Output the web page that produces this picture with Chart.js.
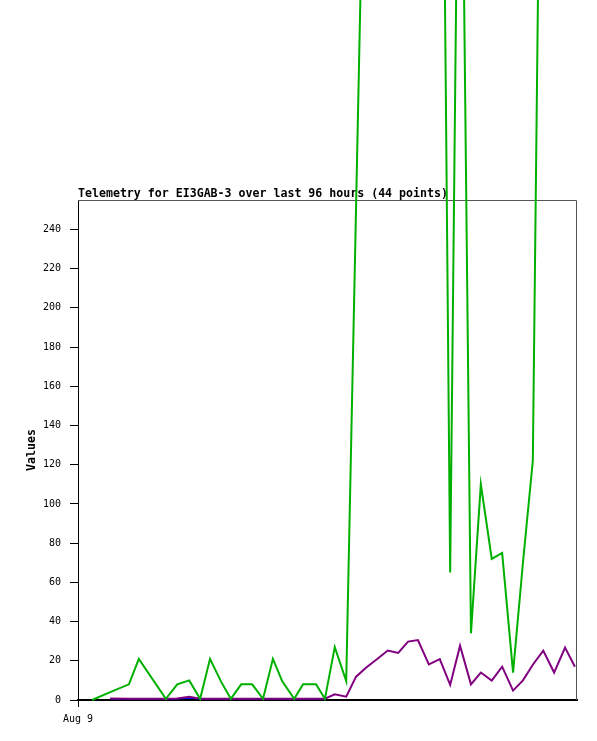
<!DOCTYPE html>
<html>
<head>
<meta charset="utf-8">
<script src="https://cdn.jsdelivr.net/npm/chart.js@4"></script>
<style>
html,body{margin:0;padding:0;background:#fff;}
canvas{display:block;}
</style>
</head>
<body>
<canvas id="c" width="597" height="741"></canvas>
<script>
// Hours since start of the 96-hour window
const hours = [2.7, 6.2, 9.8, 11.7, 16.9, 19.1, 21.4, 23.5, 25.4, 27.5,
  29.4, 31.4, 33.5, 35.6, 37.5, 39.3, 41.6, 43.3, 45.8, 47.5,
  49.4, 51.6, 53.5, 55.4, 57.5, 59.6, 61.6, 63.5, 65.4, 67.5,
  69.6, 71.6, 73.5, 75.6, 77.5, 79.6, 81.6, 83.7, 85.6, 87.5,
  89.5, 91.6, 93.7, 95.6];
const greenValues = [0, 4, 8, 21, 0.6, 8, 10, 0.6, 21, 9.5,
  0.6, 8, 8, 0.6, 21, 9.5, 0.6, 8, 8, 0.6,
  27, 9.7, 252, 495, 800, 900, 950, 1000, 950, 850,
  650, 65, 550, 34, 110, 72, 75, 14, 70, 122,
  600, 700, 750, 800];
const purpleValues = [null, 0.8, 0.7, 0.7, 0.7, 0.8, 1.7, 0.7, 0.7, 0.7,
  0.7, 0.7, 0.7, 0.7, 0.7, 0.7, 0.7, 0.7, 0.7, 0.7,
  2.9, 1.7, 11.9, 16.5, 20.8, 25.2, 24, 29.8, 30.6, 18.2,
  20.8, 7.7, 27.7, 8, 14, 9.9, 17, 4.8, 10, 18,
  25.2, 14, 26.7, 17];
const blueValues = [null, 0.6, 0.6, 0.6, 0.6, 0.6, 1.0, 0.6, 0.6, 0.6,
  0.6, 0.6, 0.6, 0.6, 0.6, 0.6, 0.6, 0.6, 0.6, 0.6,
  null, null, null, null, null, null, null, null, null, null,
  null, null, null, null, null, null, null, null, null, null,
  null, null, null, null];
const xTickLabels = [{hour: 0, label: 'Aug 9'}];
const yTicksStep = 20;
const titleText = 'Telemetry for EI3GAB-3 over last 96 hours (44 points)';

const toPts = arr => hours.map((h, i) => ({x: h, y: arr[i]}));

const frame = {
  id: 'frame',
  beforeDatasetsDraw(chart) {
    const {ctx, chartArea: a} = chart;
    ctx.save();
    ctx.strokeStyle = '#555';
    ctx.lineWidth = 1;
    ctx.beginPath();
    ctx.moveTo(a.left, a.top + 0.5);
    ctx.lineTo(a.right - 0.5, a.top + 0.5);
    ctx.lineTo(a.right - 0.5, a.bottom);
    ctx.stroke();
    ctx.restore();
  }
};

const mono = "'DejaVu Sans Mono', monospace";

new Chart(document.getElementById('c'), {
  type: 'line',
  data: {
    datasets: [
      {data: toPts(greenValues), borderColor: 'rgb(0,176,0)', borderWidth: 2, clip: false},
      {data: toPts(purpleValues), borderColor: 'rgb(128,0,128)', borderWidth: 2, clip: false},
      {data: toPts(blueValues), borderColor: 'rgb(0,0,230)', borderWidth: 1.5, clip: false}
    ]
  },
  options: {
    responsive: false,
    animation: false,
    devicePixelRatio: 1,
    spanGaps: false,
    elements: {point: {radius: 0, hoverRadius: 0}, line: {tension: 0}},
    layout: {padding: {left: 0, right: 20, top: 0, bottom: 0}},
    plugins: {
      legend: {display: false},
      tooltip: {enabled: false},
      title: {
        display: true,
        text: titleText,
        align: 'start',
        fullSize: false,
        color: '#000',
        font: {family: mono, size: 11.6, weight: 'bold', lineHeight: '13px'},
        padding: {top: 187, bottom: 0}
      }
    },
    scales: {
      x: {
        type: 'linear',
        min: 0,
        max: 96,
        afterFit(s) { s.height = 41; },
        afterBuildTicks(s) { s.ticks = xTickLabels.map(t => ({value: t.hour})); },
        ticks: {
          autoSkip: false,
          maxRotation: 0,
          padding: 6,
          color: '#000',
          font: {family: mono, size: 10},
          callback(v) {
            const t = xTickLabels.find(k => k.hour === v);
            return t ? t.label : '';
          }
        },
        grid: {drawOnChartArea: false, drawTicks: true, tickLength: 7, color: '#000'},
        border: {display: true, color: '#000', width: 2}
      },
      y: {
        type: 'linear',
        min: 0,
        max: 255,
        afterFit(s) { s.width = 78; },
        ticks: {
          stepSize: yTicksStep,
          includeBounds: false,
          padding: 9,
          color: '#000',
          font: {family: mono, size: 10}
        },
        grid: {drawOnChartArea: false, drawTicks: true, tickLength: 8, color: '#000'},
        border: {display: true, color: '#000', width: 1},
        title: {
          display: true,
          text: 'Values',
          color: '#000',
          font: {family: mono, size: 11.6, weight: 'bold'},
          padding: {top: 25, bottom: 0}
        }
      }
    }
  },
  plugins: [frame]
});
</script>
</body>
</html>
